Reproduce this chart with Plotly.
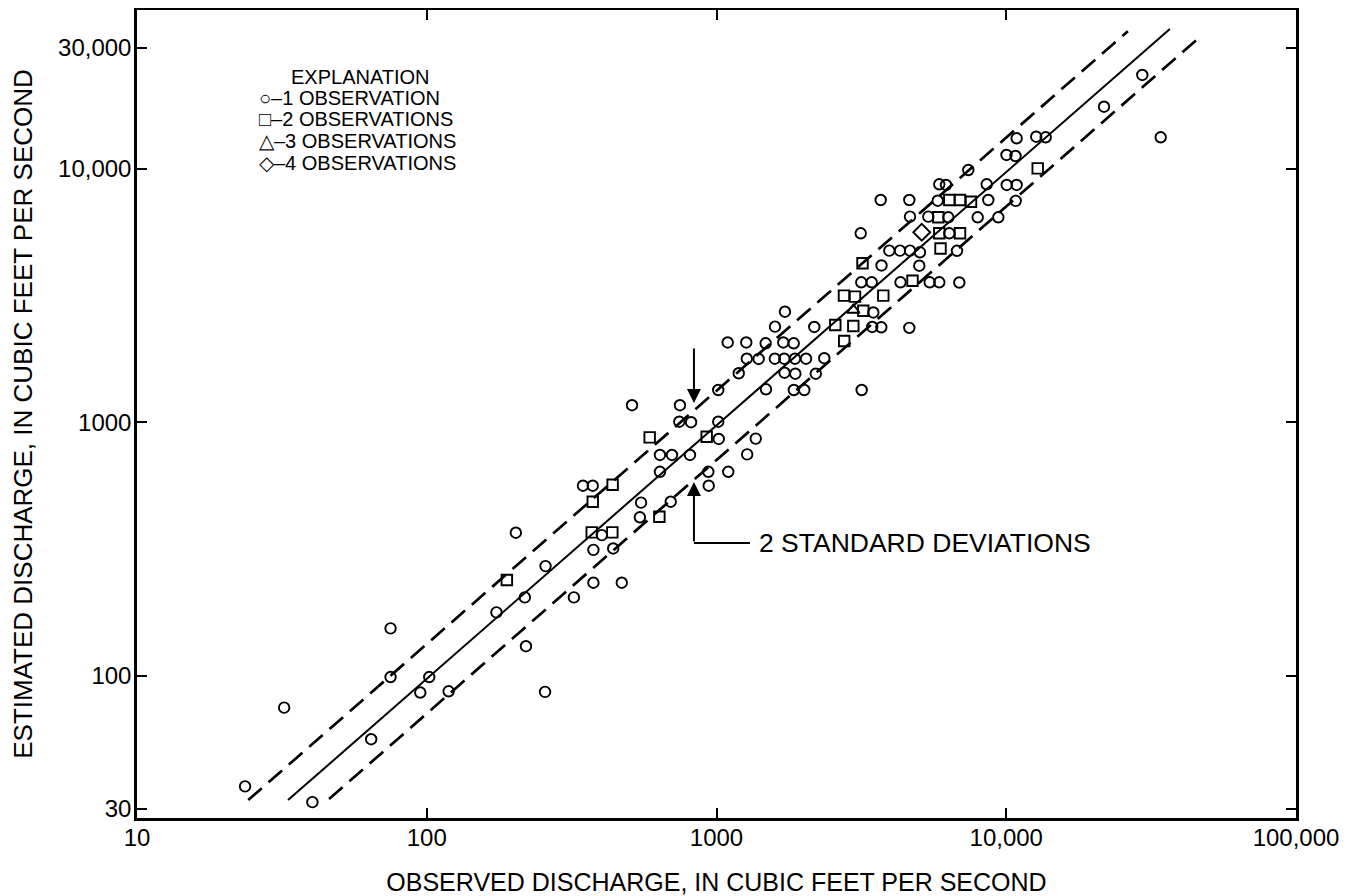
import math
import plotly.graph_objects as go

# ---------------- data ----------------
# observed (x) and estimated (y) discharge, cubic feet per second
circle_x = [23.6, 32.2, 40.3, 64.3, 75, 75, 95, 102, 119, 174, 203, 218, 220, 257, 256,
            322, 346, 374, 402, 376, 440, 376, 471, 549, 544, 695, 511, 638, 702, 810,
            638, 748, 744, 817, 937, 1098, 940, 1014, 1018, 1014, 1193, 1366, 1276, 1482,
            1093, 1267, 1478, 1700, 1847, 1592, 1272, 1398, 1590, 1713, 1866, 2037, 1717,
            1871, 2201, 2355, 1849, 2009, 2175, 3170, 1723, 3711, 5010, 3160, 3433, 4315,
            5443, 5873, 6887, 3477, 3447, 3705, 4628, 3948, 4298, 4654, 5038, 6761, 3146,
            6361, 4654, 5383, 6310, 7970, 9389, 3687, 4628, 5800, 8670, 10780, 5873, 6196,
            8561, 10040, 10860, 7396, 10020, 10760, 10860, 12690, 13680, 21750, 29480, 34120]
circle_y = [36.7, 75, 31.8, 56.3, 154, 99, 86, 99, 87, 178, 367, 204, 131, 271, 86.5,
            204, 562, 562, 359, 314, 318, 233, 233, 482, 422, 486, 1167, 743, 743, 743,
            638, 1167, 1005, 1000, 638, 638, 562, 1005, 859, 1340, 1560, 862, 747, 1349,
            2063, 2063, 2048, 2063, 2048, 2381, 1780, 1776, 1780, 1780, 1780, 1780, 1568,
            1554, 1554, 1788, 1340, 1340, 2374, 1340, 2728, 4149, 4141, 3562, 3562, 3562,
            3562, 3562, 3555, 2708, 2374, 2367, 2356, 4746, 4746, 4746, 4677, 4740, 5557,
            5557, 6462, 6462, 6426, 6426, 6426, 7517, 7517, 7468, 7517, 7460, 8670, 8614,
            8670, 8614, 8614, 9868, 11310, 11207, 13160, 13350, 13280, 17530, 23380, 13280]

square_x = [189, 438, 374, 371, 437, 635, 588, 925, 2570, 2966, 2759, 2754, 3006, 3764,
            3211, 3191, 4748, 5931, 6361, 6925, 7557, 5828, 5873, 6925, 12840]
square_y = [239, 567, 486, 368, 368, 424, 872, 877, 2418, 2395, 2091, 3155, 3126, 3155,
            2750, 4233, 3614, 4842, 7517, 7517, 7402, 6426, 5557, 5557, 10020]

triangle_x = [2966]
triangle_y = [2770]

diamond_x = [5108]
diamond_y = [5608]

# regression line and 2-standard-deviation limits
fit_x = [33.2, 36700]
fit_y = [32.4, 35500]
upper_x = [24.2, 26300]
upper_y = [32.4, 34800]
lower_x = [46.0, 47000]
lower_y = [32.7, 33300]

# annotation arrows (data units)
arrow_x = 836
upper_arrow_from, upper_arrow_to = 1980, 1191
lower_arrow_from, lower_arrow_to = 334, 581
label_elbow_x = 1305
label_x = 1380
label_text = "2 STANDARD DEVIATIONS"

x_tick_vals = [10, 100, 1000, 10000, 100000]
x_tick_text = ["10", "100", "1000", "10,000", "100,000"]
y_tick_vals = [30, 100, 1000, 10000, 30000]
y_tick_text = ["30", "100", "1000", "10,000", "30,000"]

legend_title = "EXPLANATION"
legend_rows = ["○–1 OBSERVATION", "□–2 OBSERVATIONS", "△–3 OBSERVATIONS", "◇–4 OBSERVATIONS"]

# ---------------- figure ----------------
FONT = "Liberation Sans, Arial, Helvetica, sans-serif"
INK = "black"

fig = go.Figure()

dash = "18px,9px"
fig.add_trace(go.Scatter(x=upper_x, y=upper_y, mode="lines",
                         line=dict(color=INK, width=2.7, dash=dash), hoverinfo="skip"))
fig.add_trace(go.Scatter(x=lower_x, y=lower_y, mode="lines",
                         line=dict(color=INK, width=2.7, dash=dash), hoverinfo="skip"))
fig.add_trace(go.Scatter(x=fit_x, y=fit_y, mode="lines",
                         line=dict(color=INK, width=2.0), hoverinfo="skip"))

mk_line = dict(color=INK, width=1.9)
fig.add_trace(go.Scatter(x=circle_x, y=circle_y, mode="markers", name="1 observation",
                         marker=dict(symbol="circle-open", size=10.5, color=INK, line=mk_line)))
fig.add_trace(go.Scatter(x=square_x, y=square_y, mode="markers", name="2 observations",
                         marker=dict(symbol="square-open", size=10.5, color=INK, line=mk_line)))
fig.add_trace(go.Scatter(x=triangle_x, y=triangle_y, mode="markers", name="3 observations",
                         marker=dict(symbol="triangle-up-open", size=11, color=INK, line=mk_line)))
fig.add_trace(go.Scatter(x=diamond_x, y=diamond_y, mode="markers", name="4 observations",
                         marker=dict(symbol="diamond-open", size=13, color=INK, line=mk_line)))

# elbow of the lower pointer
fig.add_trace(go.Scatter(x=[arrow_x, label_elbow_x], y=[lower_arrow_from, lower_arrow_from],
                         mode="lines", line=dict(color=INK, width=2.0), hoverinfo="skip"))

L = math.log10
annotations = [
    dict(x=L(arrow_x), y=L(upper_arrow_to), ax=L(arrow_x), ay=L(upper_arrow_from),
         xref="x", yref="y", axref="x", ayref="y", showarrow=True, arrowhead=2,
         arrowsize=1.4, arrowwidth=2, arrowcolor=INK, text=""),
    dict(x=L(arrow_x), y=L(lower_arrow_to), ax=L(arrow_x), ay=L(lower_arrow_from),
         xref="x", yref="y", axref="x", ayref="y", showarrow=True, arrowhead=2,
         arrowsize=1.4, arrowwidth=2, arrowcolor=INK, text=""),
    dict(x=L(label_x), y=L(lower_arrow_from), xref="x", yref="y", text=label_text,
         showarrow=False, xanchor="left", yanchor="middle",
         font=dict(family=FONT, size=26.5, color=INK)),
]

# legend block ("EXPLANATION") placed in paper coordinates
annotations.append(dict(x=0.1315, y=0.9171, xref="paper", yref="paper", text=legend_title,
                        showarrow=False, xanchor="left", yanchor="middle",
                        font=dict(family=FONT, size=20, color=INK)))
row_y = [0.8911, 0.8651, 0.8379, 0.8106]
for txt, yy in zip(legend_rows, row_y):
    annotations.append(dict(x=0.1035, y=yy, xref="paper", yref="paper", text=txt,
                            showarrow=False, xanchor="left", yanchor="middle",
                            font=dict(family=FONT, size=20, color=INK)))

axis_common = dict(
    type="log", showgrid=False, zeroline=False, showline=True, linewidth=2.5,
    linecolor=INK, mirror="ticks", ticks="inside", ticklen=10, tickwidth=2,
    tickcolor=INK, tickfont=dict(family=FONT, size=24, color=INK),
)

fig.update_xaxes(**axis_common, range=[1, 5], tickvals=x_tick_vals, ticktext=x_tick_text,
                 ticklabelstandoff=-4,
                 title=dict(text="OBSERVED DISCHARGE, IN CUBIC FEET PER SECOND",
                            font=dict(family=FONT, size=25, color=INK), standoff=38))
fig.update_yaxes(**axis_common, range=[1.440, 4.625], tickvals=y_tick_vals, ticktext=y_tick_text,
                 ticklabelstandoff=-2,
                 title=dict(text="ESTIMATED DISCHARGE, IN CUBIC FEET PER SECOND",
                            font=dict(family=FONT, size=26, color=INK), standoff=21))

# the page body adds an 8 px margin, so the figure is offset by 8 px inside the window
fig.update_layout(
    width=1342, height=888,
    margin=dict(l=129, r=54, t=2, b=78, autoexpand=False),
    paper_bgcolor="white", plot_bgcolor="white",
    showlegend=False, annotations=annotations,
    font=dict(family=FONT, color=INK),
)

fig.write_html("out.html")
